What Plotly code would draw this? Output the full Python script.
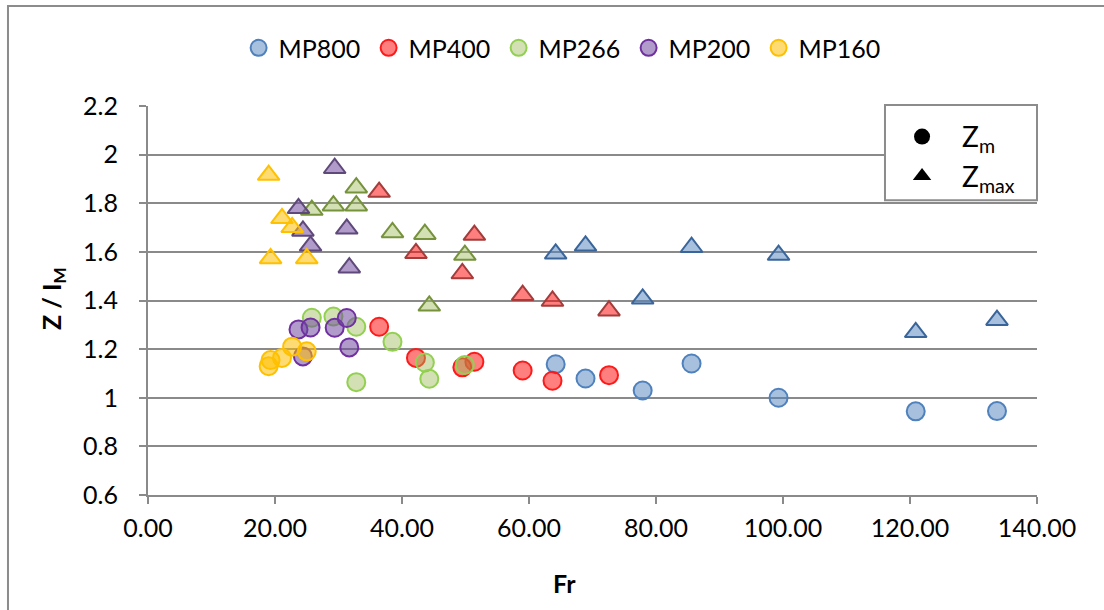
import plotly.graph_objects as go

# ---- data ----
mp800_fr = [64.2, 68.9, 77.9, 85.6, 99.3, 120.9, 133.7]
mp800_zm = [1.138, 1.079, 1.030, 1.141, 1.000, 0.944, 0.945]
mp800_zmax = [1.592, 1.625, 1.407, 1.619, 1.587, 1.269, 1.319]

mp400_fr = [36.4, 42.2, 49.5, 51.4, 59.0, 63.7, 72.6]
mp400_zm = [1.292, 1.164, 1.125, 1.148, 1.112, 1.070, 1.093]
mp400_zmax = [1.846, 1.594, 1.511, 1.669, 1.422, 1.398, 1.358]

mp266_fr = [25.8, 29.2, 32.8, 32.8, 38.5, 43.6, 44.3, 49.9]
mp266_zm = [1.329, 1.334, 1.292, 1.064, 1.230, 1.145, 1.078, 1.135]
mp266_zmax = [1.772, 1.790, 1.864, 1.790, 1.680, 1.673, 1.378, 1.587]

mp200_fr = [23.7, 24.4, 25.6, 29.4, 31.3, 31.7]
mp200_zm = [1.281, 1.170, 1.289, 1.288, 1.328, 1.207]
mp200_zmax = [1.779, 1.686, 1.625, 1.944, 1.695, 1.535]

mp160_fr = [19.0, 19.3, 21.1, 22.7, 25.0]
mp160_zm = [1.130, 1.155, 1.164, 1.210, 1.191]
mp160_zmax = [1.916, 1.573, 1.738, 1.701, 1.573]

series_names = ["MP800", "MP400", "MP266", "MP200", "MP160"]
x_ticks = [0, 20, 40, 60, 80, 100, 120, 140]
y_ticks = [0.6, 0.8, 1.0, 1.2, 1.4, 1.6, 1.8, 2.0, 2.2]

# ---- styles ----
styles = {
    "MP800": dict(fill="rgba(79,129,189,0.5)", circ="#4F81BD", tri="#3A659A"),
    "MP400": dict(fill="rgba(255,0,0,0.5)", circ="#FF1A1A", tri="#A33C3A"),
    "MP266": dict(fill="rgba(155,187,89,0.45)", circ="#92D050", tri="#76923C"),
    "MP200": dict(fill="rgba(112,72,160,0.55)", circ="#7030A0", tri="#5F497A"),
    "MP160": dict(fill="rgba(255,192,0,0.55)", circ="#FFC000", tri="#FFC000"),
}
data = {
    "MP800": (mp800_fr, mp800_zm, mp800_zmax),
    "MP400": (mp400_fr, mp400_zm, mp400_zmax),
    "MP266": (mp266_fr, mp266_zm, mp266_zmax),
    "MP200": (mp200_fr, mp200_zm, mp200_zmax),
    "MP160": (mp160_fr, mp160_zm, mp160_zmax),
}

FONT = "Lato, 'Open Sans', sans-serif"
FS = 25
GRID = "#8A8A8A"

fig = go.Figure()
for name in series_names:
    fr, zm, zmax = data[name]
    st = styles[name]
    fig.add_trace(go.Scatter(
        x=fr, y=zmax, mode="markers", name=name, showlegend=False,
        marker=dict(symbol="triangle-up", size=19, color=st["fill"],
                    line=dict(color=st["tri"], width=2)),
    ))
    fig.add_trace(go.Scatter(
        x=fr, y=zm, mode="markers", name=name, legend="legend",
        marker=dict(symbol="circle", size=18, color=st["fill"],
                    line=dict(color=st["circ"], width=2)),
    ))

# inset legend entries (shape key)
fig.add_trace(go.Scatter(x=[None], y=[None], mode="markers", name="Z<sub>m</sub>",
                         legend="legend2",
                         marker=dict(symbol="circle", size=17, color="black")))
fig.add_trace(go.Scatter(x=[None], y=[None], mode="markers", name="Z<sub>max</sub>",
                         legend="legend2",
                         marker=dict(symbol="triangle-up", size=17, color="black")))

fig.update_layout(
    width=1104, height=610,
    margin=dict(l=148, r=67, t=106, b=115),
    paper_bgcolor="white", plot_bgcolor="white",
    font=dict(family=FONT, size=FS, color="black"),
    legend=dict(orientation="h", x=0.4675, xanchor="center", y=1.149, yanchor="middle",
                font=dict(size=FS), bgcolor="rgba(0,0,0,0)",
                entrywidth=85, entrywidthmode="pixels", itemwidth=30),
    legend2=dict(orientation="v", x=0.8257, xanchor="left", y=0.985, yanchor="top",
                 font=dict(size=28), bgcolor="rgba(0,0,0,0)", itemwidth=70,
                 tracegroupgap=0),
    xaxis=dict(range=[0, 140], tickvals=x_ticks, tickformat=".2f",
               showgrid=False, zeroline=False, showline=True, linecolor=GRID, linewidth=2,
               ticks="outside", ticklen=7, tickcolor=GRID, tickwidth=2,
               ticklabelstandoff=3, tickfont=dict(size=FS)),
    yaxis=dict(range=[0.6, 2.2], tickvals=y_ticks,
               showgrid=True, gridcolor=GRID, gridwidth=2, zeroline=False,
               showline=True, linecolor=GRID, linewidth=2,
               ticks="outside", ticklen=7, tickcolor=GRID, tickwidth=2,
               ticklabelstandoff=16, tickfont=dict(size=FS)),
    shapes=[
        # chart area border
        dict(type="rect", xref="paper", yref="paper", x0=-0.1575, x1=1.2, y0=-0.4, y1=1.257,
             line=dict(color="#8C8C8C", width=2), fillcolor="rgba(0,0,0,0)", layer="below"),
        # inset legend box
        dict(type="rect", xref="paper", yref="paper", x0=0.829, x1=1.0, y0=0.758, y1=1.0026,
             line=dict(color="#8C8C8C", width=2), fillcolor="white", layer="above"),
    ],
    annotations=[
        dict(text="<b>Z / I<sub>M</sub></b>", xref="paper", yref="paper", x=-0.107, y=0.506,
             textangle=-90, showarrow=False, font=dict(size=FS), xanchor="center", yanchor="middle"),
        dict(text="<b>Fr</b>", xref="paper", yref="paper", x=0.468, y=-0.226,
             showarrow=False, font=dict(size=FS), xanchor="center", yanchor="middle"),
    ],
)

fig.write_html("out.html", config={"displayModeBar": False},
               post_script="document.body.style.margin='0';")
